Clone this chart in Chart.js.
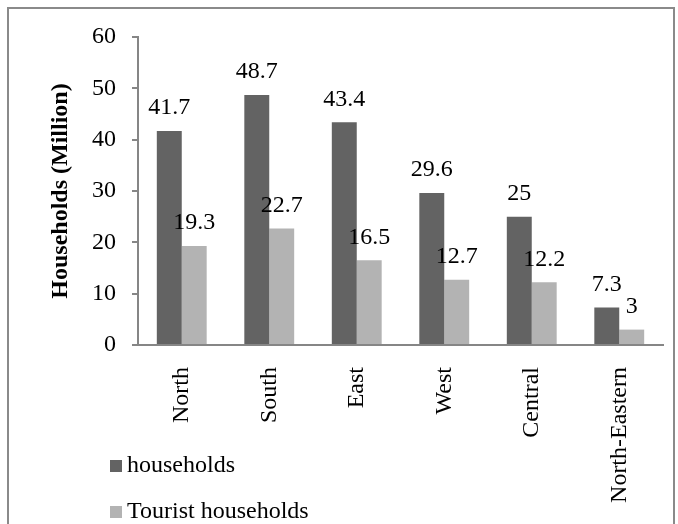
<!DOCTYPE html>
<html>
<head>
<meta charset="utf-8">
<script src="https://cdn.jsdelivr.net/npm/chart.js@4"></script>
<style>
  html, body { margin: 0; padding: 0; background: #fff; }
  #frame {
    position: absolute; left: 7px; top: 7px; width: 664px; height: 540px;
    border: 2px solid #8a8a8a;
  }
  #wrap { position: absolute; left: 0; top: 0; width: 678px; height: 524px; }
</style>
</head>
<body>
<div id="frame"></div>
<div id="wrap"><canvas id="myChart" width="678" height="524"></canvas></div>
<script>
const regions = ['North', 'South', 'East', 'West', 'Central', 'North-Eastern'];
const households = [41.7, 48.7, 43.4, 29.6, 25, 7.3];
const touristHouseholds = [19.3, 22.7, 16.5, 12.7, 12.2, 3];

const serif = "'Liberation Serif', 'Times New Roman', serif";
const axisGray = '#868686';
const fontSize = 24;

// value printed above each bar
const valueLabels = {
  id: 'valueLabels',
  afterDatasetsDraw(chart) {
    const ctx = chart.ctx;
    ctx.save();
    ctx.font = fontSize + 'px ' + serif;
    ctx.fillStyle = '#000';
    ctx.textAlign = 'center';
    ctx.textBaseline = 'middle';
    chart.data.datasets.forEach((ds, i) => {
      chart.getDatasetMeta(i).data.forEach((bar, j) => {
        ctx.fillText(String(ds.data[j]), bar.x, bar.y - 23);
      });
    });
    ctx.restore();
  }
};

// stacked legend in the lower left corner
const sideLegend = {
  id: 'sideLegend',
  afterDraw(chart) {
    const ctx = chart.ctx;
    ctx.save();
    ctx.font = fontSize + 'px ' + serif;
    ctx.textBaseline = 'middle';
    chart.data.datasets.forEach((ds, i) => {
      const y = 466 + i * 46;
      ctx.fillStyle = ds.backgroundColor;
      ctx.fillRect(110, y - 6, 12, 12);
      ctx.fillStyle = '#000';
      ctx.fillText(ds.label, 127, y);
    });
    ctx.restore();
  }
};

const data = {
  labels: regions,
  datasets: [{
    label: 'households',
    data: households,
    backgroundColor: '#636363'
  }, {
    label: 'Tourist households',
    data: touristHouseholds,
    backgroundColor: '#b3b3b3'
  }]
};

const config = {
  type: 'bar',
  data: data,
  options: {
    responsive: false,
    animation: false,
    layout: { padding: { left: 40, top: 37, right: 15, bottom: 0 } },
    datasets: {
      bar: { categoryPercentage: 0.57, barPercentage: 1.0 }
    },
    plugins: {
      legend: { display: false },
      tooltip: { enabled: false }
    },
    scales: {
      x: {
        grid: { display: true, drawOnChartArea: false, drawTicks: false, tickLength: 0 },
        border: { color: axisGray, width: 2 },
        ticks: {
          color: '#000',
          font: { family: serif, size: fontSize },
          minRotation: 90,
          maxRotation: 90,
          padding: 22
        },
        afterFit(scale) { scale.height = 179; }
      },
      y: {
        min: 0,
        max: 60,
        grid: { drawOnChartArea: false, drawTicks: true, tickLength: 6, color: axisGray, lineWidth: 2 },
        border: { color: axisGray, width: 2 },
        ticks: {
          stepSize: 10,
          color: '#000',
          font: { family: serif, size: fontSize },
          padding: 16
        },
        title: {
          display: true,
          text: 'Households (Million)',
          color: '#000',
          font: { family: serif, size: fontSize, weight: 'bold' },
          padding: { top: 6, bottom: 0 }
        },
        afterFit(scale) { scale.width = 98; }
      }
    }
  },
  plugins: [valueLabels, sideLegend]
};

const myChart = new Chart(
  document.getElementById('myChart'),
  config
);
</script>
</body>
</html>
